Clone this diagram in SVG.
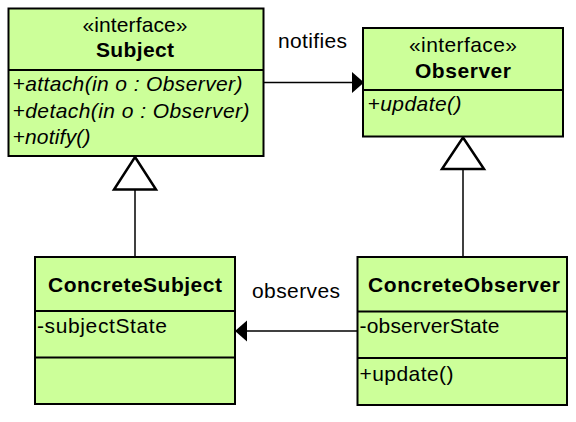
<svg xmlns="http://www.w3.org/2000/svg" width="576" height="422" viewBox="0 0 576 422">
<style>
.box{fill:#ccff99;stroke:#000;stroke-width:2}
.div{stroke:#000;stroke-width:2}
.t{font-family:"Liberation Sans",Arial,sans-serif;font-size:21px;fill:#000}
.c{text-anchor:middle}
.b{font-weight:bold}
.i{font-style:italic}
.line{stroke:#000;stroke-width:1.5;fill:none}
.tri{fill:#fff;stroke:#000;stroke-width:2.5;stroke-linejoin:miter}
.head{fill:#000;stroke:none}
</style>
<rect width="576" height="422" fill="#fff"/>
<g id="connectors">
  <line class="line" x1="135" y1="189.5" x2="135" y2="257"/>
  <polygon class="tri" points="135,157 156,189.5 114,189.5"/>
  <line class="line" x1="463" y1="169" x2="463" y2="257"/>
  <polygon class="tri" points="463,137.5 484,169 442,169"/>
  <line class="line" x1="263.5" y1="82.5" x2="353" y2="82.5"/>
  <polygon class="head" points="352,72 364,82.5 352,93"/>
  <text class="t" x="278" y="48" textLength="69" lengthAdjust="spacing">notifies</text>
  <line class="line" x1="357" y1="331" x2="246" y2="331"/>
  <polygon class="head" points="247,320.5 235,331 247,341.5"/>
  <text class="t" x="252" y="298" textLength="88" lengthAdjust="spacing">observes</text>
</g>
<g id="Subject">
  <rect class="box" x="8.5" y="8.5" width="255" height="147.5"/>
  <line class="div" x1="8.5" y1="70" x2="263.5" y2="70"/>
  <text class="t c" x="135" y="32" textLength="105" lengthAdjust="spacing">«interface»</text>
  <text class="t c b" x="135" y="57" textLength="78" lengthAdjust="spacing">Subject</text>
  <text class="t i" x="12.5" y="91" textLength="230" lengthAdjust="spacing">+attach(in o : Observer)</text>
  <text class="t i" x="12.5" y="117.5" textLength="237" lengthAdjust="spacing">+detach(in o : Observer)</text>
  <text class="t i" x="12.5" y="144" textLength="78" lengthAdjust="spacing">+notify()</text>
</g>
<g id="Observer">
  <rect class="box" x="363" y="28" width="200" height="108.5"/>
  <line class="div" x1="363" y1="90" x2="563" y2="90"/>
  <text class="t c" x="463" y="52" textLength="108" lengthAdjust="spacing">«interface»</text>
  <text class="t c b" x="463" y="78" textLength="96" lengthAdjust="spacing">Observer</text>
  <text class="t i" x="367.5" y="111" textLength="94" lengthAdjust="spacing">+update()</text>
</g>
<g id="ConcreteSubject">
  <rect class="box" x="35" y="257" width="200" height="147"/>
  <line class="div" x1="35" y1="311" x2="235" y2="311"/>
  <line class="div" x1="35" y1="357.5" x2="235" y2="357.5"/>
  <text class="t c b" x="135" y="292" textLength="174" lengthAdjust="spacing">ConcreteSubject</text>
  <text class="t" x="37" y="333" textLength="130" lengthAdjust="spacing">-subjectState</text>
</g>
<g id="ConcreteObserver">
  <rect class="box" x="357.5" y="257" width="209.5" height="148"/>
  <line class="div" x1="357.5" y1="311.5" x2="567" y2="311.5"/>
  <line class="div" x1="357.5" y1="358" x2="567" y2="358"/>
  <text class="t c b" x="464" y="292" textLength="192" lengthAdjust="spacing">ConcreteObserver</text>
  <text class="t" x="359.5" y="333" textLength="140" lengthAdjust="spacing">-observerState</text>
  <text class="t" x="359.5" y="381" textLength="94" lengthAdjust="spacing">+update()</text>
</g>
</svg>
